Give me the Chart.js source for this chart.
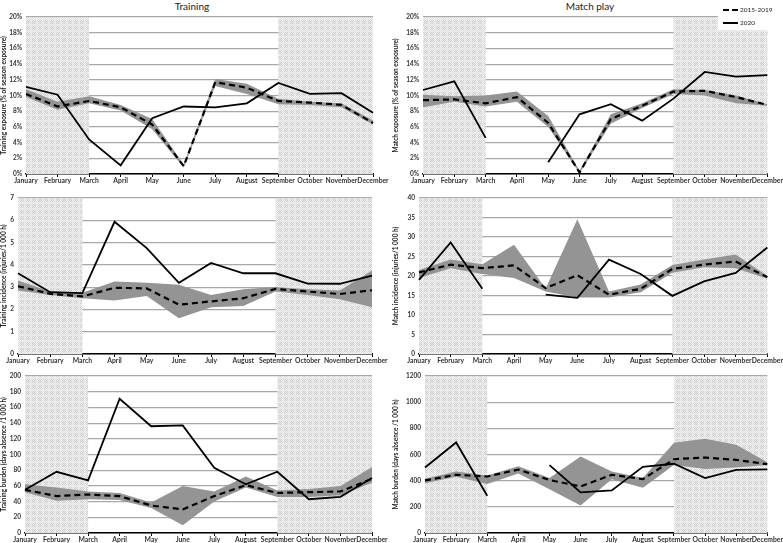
<!DOCTYPE html>
<html>
<head>
<meta charset="utf-8">
<script src="https://cdn.jsdelivr.net/npm/chart.js@4/dist/chart.umd.min.js"></script>
<style>
  body { margin: 0; background: #fff; width: 783px; height: 543px; position: relative; overflow: hidden; }
  canvas { position: absolute; }
  .title { position: absolute; top: 0; font: 10px Lato, 'Liberation Sans', sans-serif; color: #222; transform: translateX(-50%); }
</style>
</head>
<body>
<div class="title" style="left:192px">Training</div>
<div class="title" style="left:590px">Match play</div>
<canvas id="c0"></canvas>
<canvas id="c1"></canvas>
<canvas id="c2"></canvas>
<canvas id="c3"></canvas>
<canvas id="c4"></canvas>
<canvas id="c5"></canvas>
<script>
const months = ['January', 'February', 'March', 'April', 'May', 'June', 'July', 'August', 'September', 'October', 'November', 'December'];

// training exposure (% of season exposure)
const trainExpLow  = [9.8, 8.2, 9.0, 8.1, 5.7, 0.8, 11.2, 10.2, 8.9, 8.8, 8.5, 6.3];
const trainExpHigh = [10.8, 9.2, 9.9, 8.8, 7.0, 1.2, 12.1, 11.5, 9.6, 9.2, 9.0, 6.8];
const trainExpMean = [10.2, 8.6, 9.3, 8.5, 6.3, 1.0, 11.7, 11.0, 9.3, 9.1, 8.8, 6.5];
const trainExp2020 = [11.1, 10.1, 4.4, 1.1, 7.1, 8.6, 8.5, 9.0, 11.6, 10.2, 10.3, 7.8];

// match exposure (% of season exposure)
const matchExpLow  = [8.5, 9.2, 8.6, 9.2, 6.0, 0.1, 6.4, 8.4, 10.2, 10.0, 9.0, 8.7];
const matchExpHigh = [10.1, 9.9, 10.0, 10.5, 7.4, 0.4, 7.6, 9.0, 10.8, 10.7, 10.0, 8.9];
const matchExpMean = [9.4, 9.5, 9.0, 9.8, 6.5, 0.2, 7.0, 8.7, 10.5, 10.6, 9.8, 8.8];
const matchExp2020 = [10.7, 11.8, 4.6, null, 1.5, 7.6, 8.9, 6.8, 9.6, 13.0, 12.4, 12.6];

// training incidence (injuries/1 000 h)
const trainIncLow  = [2.85, 2.65, 2.5, 2.4, 2.6, 1.6, 2.1, 2.15, 2.8, 2.65, 2.45, 2.1];
const trainIncHigh = [3.3, 2.8, 2.75, 3.25, 3.2, 3.1, 2.65, 2.9, 3.0, 2.9, 2.85, 3.75];
const trainIncMean = [3.04, 2.7, 2.58, 2.97, 2.94, 2.21, 2.36, 2.5, 2.92, 2.8, 2.69, 2.86];
const trainInc2020 = [3.62, 2.77, 2.73, 5.93, 4.75, 3.19, 4.08, 3.62, 3.62, 3.16, 3.15, 3.52];

// match incidence (injuries/1 000 h)
const matchIncLow  = [19.5, 22.0, 20.5, 19.5, 16.0, 14.5, 14.5, 15.8, 20.8, 22.2, 22.0, 19.3];
const matchIncHigh = [21.5, 24.2, 23.0, 28.0, 16.8, 34.5, 16.0, 17.8, 22.8, 24.2, 25.5, 20.0];
const matchIncMean = [20.9, 22.9, 22.0, 22.7, 16.9, 20.2, 15.2, 16.7, 21.8, 22.9, 23.7, 19.7];
const matchInc2020 = [19.0, 28.6, 16.7, null, 15.2, 14.4, 24.2, 20.5, 14.9, 18.6, 20.8, 27.3];

// training burden (days absence /1 000 h)
const trainBurLow  = [52, 41, 43, 42, 32, 10, 40, 58, 46, 46, 48, 64];
const trainBurHigh = [62, 58, 53, 51, 39, 60, 53, 72, 54, 56, 60, 84];
const trainBurMean = [55, 47, 49, 47, 35, 30, 47, 61, 51, 52, 53, 69];
const trainBur2020 = [55, 78, 67, 171, 136, 137, 83, 62, 78, 43, 46, 70];

// match burden (days absence /1 000 h)
const matchBurLow  = [380, 430, 375, 455, 335, 210, 410, 345, 520, 490, 500, 520];
const matchBurHigh = [415, 470, 440, 510, 420, 585, 470, 420, 690, 720, 675, 540];
const matchBurMean = [402, 445, 432, 485, 405, 356, 445, 412, 564, 577, 559, 526];
const matchBur2020 = [501, 692, 285, null, 519, 310, 325, 506, 529, 420, 483, 486];

const FONT = "Lato, 'Liberation Sans', sans-serif";

// checkered fill used for the off-season months
const makePattern = () => {
    const t = document.createElement('canvas');
    t.width = 6; t.height = 6;
    const g = t.getContext('2d');
    for (let i = 0; i < 6; i++) {
        for (let j = 0; j < 6; j++) {
            let c = (i + j) % 2 ? '#cdcdcd' : '#ebebeb';
            if (i < 2 || j < 2) c = (i + j) % 2 ? '#dedede' : '#f4f4f4';
            g.fillStyle = c;
            g.fillRect(i, j, 1, 1);
        }
    }
    return g.createPattern(t, 'repeat');
};
let pattern = null;

const shadePlugin = {
    id: 'shade',
    beforeDatasetsDraw(chart) {
        const { ctx, chartArea } = chart;
        const x = chart.scales.x;
        if (!pattern) pattern = makePattern();
        ctx.save();
        ctx.fillStyle = pattern;
        const a = x.getPixelForValue(0), b = x.getPixelForValue(2);
        const c = x.getPixelForValue(8), d = x.getPixelForValue(11);
        ctx.fillRect(a, chartArea.top, b - a, chartArea.bottom - chartArea.top);
        ctx.fillRect(c, chartArea.top, d - c, chartArea.bottom - chartArea.top);
        if (chart.options.plugins.legendBox) {
            ctx.fillStyle = '#fff';
            ctx.fillRect(326, 0, 80, 30);
        }
        ctx.restore();
    },
    afterDraw(chart) {
        if (!chart.options.plugins.legendBox) return;
        const ctx = chart.ctx;
        ctx.save();
        ctx.strokeStyle = '#000';
        ctx.lineWidth = 2;
        ctx.setLineDash([6, 3]);
        ctx.beginPath(); ctx.moveTo(331, 10); ctx.lineTo(346, 10); ctx.stroke();
        ctx.setLineDash([]);
        ctx.beginPath(); ctx.moveTo(331, 23); ctx.lineTo(346, 23); ctx.stroke();
        ctx.fillStyle = '#222';
        ctx.font = '6.5px ' + FONT;
        ctx.textBaseline = 'middle';
        ctx.fillText('2015-2019', 348, 10);
        ctx.fillText('2020', 348, 23);
        ctx.restore();
    }
};

const panels = [
    { id: 'c0', left: 0,   top: 0,   w: 392, h: 190, yw: 26, pr: 19, pt: 17, xh: 16, max: 20,   step: 2,   pct: true,
      title: 'Training exposure (% of season exposure)', low: trainExpLow, high: trainExpHigh, mean: trainExpMean, cur: trainExp2020 },
    { id: 'c1', left: 392, top: 0,   w: 391, h: 190, yw: 31, pr: 13, pt: 17, xh: 16, max: 20,   step: 2,   pct: true, legend: true,
      title: 'Match exposure (% of season exposure)', low: matchExpLow, high: matchExpHigh, mean: matchExpMean, cur: matchExp2020 },
    { id: 'c2', left: 0,   top: 190, w: 392, h: 175, yw: 18, pr: 20, pt: 7,  xh: 11, max: 7,    step: 1,
      title: 'Training incidence (injuries/1 000 h)', low: trainIncLow, high: trainIncHigh, mean: trainIncMean, cur: trainInc2020 },
    { id: 'c3', left: 392, top: 190, w: 391, h: 175, yw: 27, pr: 13, pt: 7,  xh: 11, max: 40,   step: 5,
      title: 'Match incidence (injuries/1 000 h)', low: matchIncLow, high: matchIncHigh, mean: matchIncMean, cur: matchInc2020 },
    { id: 'c4', left: 0,   top: 365, w: 392, h: 178, yw: 25, pr: 20, pt: 11, xh: 10, max: 200,  step: 20,
      title: 'Training burden (days absence /1 000 h)', low: trainBurLow, high: trainBurHigh, mean: trainBurMean, cur: trainBur2020 },
    { id: 'c5', left: 392, top: 365, w: 391, h: 178, yw: 33, pr: 13, pt: 11, xh: 10, max: 1200, step: 200,
      title: 'Match burden (days absence /1 000 h)', low: matchBurLow, high: matchBurHigh, mean: matchBurMean, cur: matchBur2020 }
];

panels.forEach(p => {
    const el = document.getElementById(p.id);
    el.style.left = p.left + 'px';
    el.style.top = p.top + 'px';
    el.style.width = p.w + 'px';
    el.style.height = p.h + 'px';
    el.width = p.w;
    el.height = p.h;

    new Chart(el, {
        type: 'line',
        data: {
            labels: months,
            datasets: [
                { data: p.cur, borderColor: '#000', borderWidth: 1.8, pointRadius: 0, spanGaps: false, order: 0 },
                { data: p.mean, borderColor: '#000', borderWidth: 2.2, borderDash: [6, 4], pointRadius: 0, order: 1 },
                { data: p.high, borderWidth: 0, borderColor: 'rgba(0,0,0,0)', pointRadius: 0, fill: '+1', backgroundColor: '#949494', order: 2 },
                { data: p.low, borderWidth: 0, borderColor: 'rgba(0,0,0,0)', pointRadius: 0, order: 3 }
            ]
        },
        options: {
            responsive: false,
            animation: false,
            devicePixelRatio: 1,
            layout: { padding: { top: p.pt, right: p.pr, left: 0, bottom: 0 } },
            elements: { line: { tension: 0 } },
            plugins: {
                legend: { display: false },
                tooltip: { enabled: false },
                legendBox: p.legend || false
            },
            scales: {
                x: {
                    offset: false,
                    grid: { drawOnChartArea: false, drawTicks: true, tickLength: 3, color: '#000', lineWidth: 1 },
                    border: { display: true, color: '#000', width: 1.5 },
                    ticks: { autoSkip: false, maxRotation: 0, padding: 0, color: '#333', font: { family: FONT, size: 6.8, weight: 'bold' } },
                    afterFit: (s) => { s.height = p.xh; }
                },
                y: {
                    min: 0,
                    max: p.max,
                    grid: { color: '#a8a8a8', lineWidth: 1.2, drawTicks: false },
                    border: { display: false },
                    ticks: {
                        stepSize: p.step,
                        padding: 4,
                        color: '#333',
                        font: { family: FONT, size: 6.5, weight: 'bold' },
                        callback: (v) => p.pct ? v + '%' : v
                    },
                    title: { display: true, text: p.title, color: '#222', padding: 0, font: { family: FONT, size: 6.5, weight: 'bold' } },
                    afterFit: (s) => { s.width = p.yw; }
                }
            }
        },
        plugins: [shadePlugin]
    });
});
</script>
</body>
</html>
